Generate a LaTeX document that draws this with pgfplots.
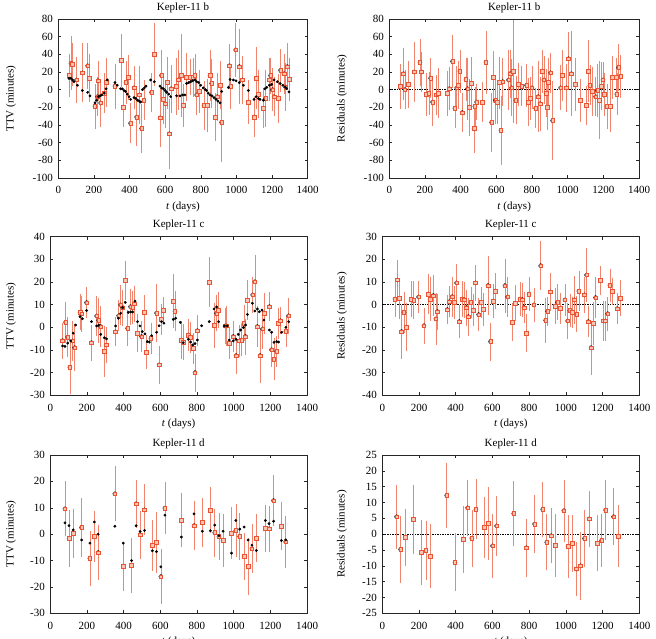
\documentclass[border=0pt]{standalone}
\usepackage{pgfplots}
\pgfplotsset{compat=1.18}
\usepackage{pgfplotstable}
\usepackage{fontspec}
\setmainfont{Liberation Serif}

\definecolor{errc}{RGB}{240,132,108}
\definecolor{markc}{RGB}{232,84,52}
\definecolor{markfill}{RGB}{250,196,178}

% ---------- Kepler-11 b ----------
\pgfplotstableread{
t v e
62 16 22
71 30 28
80 29 22
103 11 24
135 19 31
165 27 24
174 13 25
206 -19 23
221 -8 20
225 10 20
238 -15 25
258 -4 20
271 8 25
318 4 23
352 33 28
365 -20 20
380 8 22
393 14 23
406 -38 20
425 2 22
440 -31 30
455 -6 30
468 -44 25
481 -12 20
524 -3 20
539 40 33
571 -32 31
580 16 27
590 -11 25
600 -16 25
612 8 27
623 -50 37
633 1 25
664 4 30
674 11 32
692 16 45
702 -18 22
720 14 25
739 14 18
758 14 20
767 16 22
777 -6 20
792 -2 22
818 -18 25
837 -18 28
852 16 27
861 7 25
880 -31 25
893 -8 25
908 5 25
917 -37 42
960 27 22
968 4 23
996 45 28
1016 26 40
1033 11 25
1067 -14 22
1099 -31 20
1110 13 33
1123 -5 25
1151 -21 20
1164 -10 30
1185 11 22
1192 16 18
1203 0 22
1211 -8 20
1235 -10 25
1248 22 22
1267 18 20
1276 3 25
1286 26 24
1297 12 22
}\bobs

\pgfplotstableread{
t v
60 12.7
71 12.7
80 11
88 9
107 5
135 -1
165 -3
178 -7
206 -15
215 -12
225 -8
234 -7
243 -6
258 -4
268 1
275 11
318 8
331 5
350 1
359 1
369 -1
378 -2
387 -5
397 -8
406 -11
425 -9
436 -10
445 -12
455 -13
462 -14
473 0
483 2
492 4
518 11
539 9
571 4
580 2
590 1
600 -1
608 -3
620 -5
631 -8
664 -7
683 -7
698 -6
711 -6
720 7
732 8
743 9
754 10
767 11
777 9
788 8
799 5
814 2
825 0
833 -1
842 -4
852 -6
863 -7
874 -9
885 -11
896 -13
908 -15
917 -2
955 2.5
964 11.5
983 11
998 10
1016 8
1039 5
1067 -1
1099 -11
1110 -8
1123 -10
1132 -11
1151 -12
1160 1
1170 2.5
1185 5
1198 6
1211 11
1230 9
1245 7
1260 5
1273 3
1282 1.3
1295 -2.5
}\bmod

\pgfplotstableread{
t v e
63 4 23
80 18 27
88 0 20
107 6 24
139 20 32
172 31 24
181 20 20
209 -5 22
222 -4 22
232 13 20
243 -14 25
265 -6 20
275 -4 26
325 -4 23
336 1 22
355 32 28
368 -21 20
378 2 22
387 5 25
396 21 22
409 -26 20
430 12 22
439 1 33
449 -20 30
460 7 28
475 -44 25
480 -19 20
490 -14 18
523 -14 20
542 31 33
574 -37 31
583 14 27
596 -12 25
606 -14 22
617 8 27
626 -46 37
636 9 25
669 11 32
677 18 25
686 2 30
695 21 56
710 -12 25
723 6 22
742 4 20
770 5 22
779 -14 25
789 -10 22
800 2 22
821 -21 20
836 -8 38
845 -16 28
858 21 22
867 11 25
879 -4 25
886 -20 23
893 8 25
905 19 20
916 -35 42
961 2 23
970 16 26
994 2 25
1005 35 28
1021 18 46
1044 6 28
1072 -12 22
1106 -18 20
1116 21 33
1125 5 20
1138 -2 25
1157 -8 20
1168 -1 28
1179 -12 42
1187 4 25
1198 11 18
1206 -5 22
1221 -19 23
1240 -19 27
1251 14 22
1273 14 20
1276 -5 21
1286 25 24
1297 15 22
}\bres

% ---------- Kepler-11 c ----------
\pgfplotstableread{
t v e
67 -5.9 7
84 2.2 8
95 -4.3 8
107 -17.6 11
122 -6 8
133 -9 9.5
162 6.6 7
171 6 7
198 10.9 6
225 -6.8 7
253 5 8
264 3.1 9
275 0.3 8
295 -10.7 10.5
304 -7.8 7
356 -2 5.5
373 5.1 6
384 9.9 8
395 8.7 7
409 20.7 7.5
422 -0.4 7
438 9.1 7
449 8.8 6.5
458 10.4 7
476 -2.6 7.5
498 -4.1 6
513 6.5 7
525 -11 6.5
549 -4.9 6
580 6.3 12
593 -16.6 7.5
607 3.5 6
616 7.6 5
671 11.5 11
680 7.1 8
713 -5.6 7.5
725 -6.6 7
753 -3.4 6
765 -4.4 6
780 -9.3 6
789 -20 7.5
802 -1.5 6
867 19.9 10
895 1 9
907 6.2 7
916 7.6 7
953 0.6 7
962 0.6 8
975 -7 6
998 -4.1 6
1013 -12.5 7
1031 -6 6
1044 -5.6 6
1056 1.8 7
1065 -4.1 7
1075 12 8
1104 14.3 7
1116 20.1 11
1129 0.3 8
1144 -12.5 11
1158 -0.7 8
1167 6.2 8
1195 9.1 5.5
1207 -9.9 6.5
1220 -14 8.5
1235 -10.6 6
1245 1.8 6
1256 2.9 5
1285 -1.8 6
1300 5.1 7
}\cobs

\pgfplotstableread{
t v
67 -8.2
80 -8.4
95 -7
111 -6
125 -2.6
138 1
162 4.7
175 3.8
198 7.4
225 2.5
253 0.6
264 1
275 -3.1
295 -4.6
307 -5.1
356 0.6
371 4
384 6.2
395 8.7
409 11
425 6.6
438 6.8
449 6.8
462 11.6
476 2.5
489 0.6
502 -1.9
516 -2.9
529 -6.3
540 -6.5
553 -3.7
580 -2.2
593 0.7
607 2.5
620 1.8
671 3.5
684 4
709 2.2
725 -6.8
753 -5.3
765 -6.5
776 -7.8
789 -7.2
802 -5.6
825 0.7
867 2.5
893 8.1
907 9
918 2.5
949 0.6
965 0.6
976 -5.6
998 -6
1013 -5.3
1025 -3.1
1038 -1.2
1053 -0.1
1065 1
1075 5.7
1102 10.6
1116 7.2
1129 8.1
1140 6.9
1155 7.6
1165 3.2
1195 -1.2
1207 -2.2
1220 -6.6
1235 -6.3
1245 -6.5
1262 -2.2
1285 0
1300 2.5
}\cmod

\pgfplotstableread{
t v e
69 2.5 7
82 10.9 8
93 2.8 8
105 -11.9 11
118 -3.5 8
131 -9.9 9.5
158 2.4 7
171 1.9 7.5
198 3.4 6
227 -9.3 7
251 4.7 8
260 2.5 9
278 4 8
292 -6.3 10.5
301 -3.1 7
354 -2.2 5.5
365 1.3 6
381 3.5 8
392 1 6.5
405 9.6 7.5
419 -7.5 6.5
436 2.5 7
447 2.2 7
459 -1.3 7
468 -5.3 7.5
483 1 6
496 -2.4 6
508 9.6 7
525 -4.4 6.5
538 1 6
550 -2.1 6.5
576 8.4 12
590 -16.3 7.5
605 1.6 6.5
616 6 7
668 8.4 11
683 3.4 8
708 -7.8 7.5
723 0.7 7
750 2.5 6.5
763 2.2 6.5
772 -1.3 6
786 -12.6 7.5
799 4.7 6.5
826 -0.1 6.5
863 17.2 10
890 -6.9 9
901 -2.9 5.5
915 5.6 7.5
941 -0.6 7
955 1 7
968 -1.6 6
995 2.1 6
1010 -7.2 7
1022 -2.6 6.5
1035 -3.5 6
1046 2.1 9.5
1059 -4.3 7
1071 6 8
1101 4.3 7
1113 13.1 11
1122 -7.5 6
1137 -19 11
1150 -8.2 8.5
1162 3.1 8
1189 10.7 5.5
1204 -7.2 8
1215 -7.2 8
1228 -4 6.5
1240 8.5 6.5
1253 5.9 5
1280 -1.8 6
1295 2.9 7
}\cres

% ---------- Kepler-11 d ----------
\pgfplotstableread{
t v e
80 9.6 9.6
102 -1.6 10
125 0.4 8.5
171 2.5 10.3
216 -9.2 9.6
240 -0.9 8.8
261 -7 9.5
352 15.3 9.7
398 -12.3 8.5
443 -11.9 9.8
468 11.5 8.2
490 -0.3 8.3
514 9.2 8.9
557 -4.3 9
579 -3.2 10.8
603 -16.1 9.5
625 9.9 9
715 5.3 9.5
784 3.2 8.4
829 4.4 8.6
873 9 7.9
897 0.6 8.3
920 -0.9 8
942 -2.4 9.3
988 0.3 9.1
1012 1.4 9.3
1033 -0.9 8.2
1057 -8.5 8
1079 -12.3 10
1100 -5.6 8.5
1124 -1.5 8.2
1173 2.2 8.2
1193 2 7.8
1218 12.7 8.8
1260 3 8.3
1284 -2.9 9.1
}\dobs

\pgfplotstableread{
t v
80 4.3
102 3.2
125 1.6
171 -2.2
216 -3.4
240 4.6
261 0
352 3
398 -3.4
443 -10
468 3.2
490 1
514 1.4
557 -6.3
579 -6.6
603 -12.4
625 7.2
715 -1.1
784 7.7
829 1.1
873 1.3
897 3.4
920 -0.6
942 1.1
988 -7.2
1012 5.2
1033 1.9
1057 2.7
1079 -2.2
1100 -4.2
1124 -6.2
1173 5.2
1193 4
1218 4.9
1260 -2.4
1284 -2.2
}\dmod

\pgfplotstableread{
t v e
78 5.5 9.5
100 -4.8 9.9
124 -1 8.3
169 4.7 10.2
214 -5.7 9.6
238 -5.1 8.7
260 -7 9.5
351 12.2 9.7
396 -8.9 8.5
441 -1.7 9.8
465 8.3 8.2
488 -1.3 8.3
510 7.8 8.8
556 2.1 9
579 3.4 10.8
601 -3.7 9.4
623 2.6 8.9
716 6.5 9.5
785 -4.3 8.5
830 3.2 8.6
874 7.8 7.9
896 -2.6 8.2
920 -0.5 8
942 -3.6 9.2
989 7.4 9.1
1012 -3.9 9.2
1035 -2.9 8.3
1057 -11 8
1080 -10 10
1102 -1.4 8.4
1126 4.8 8.2
1171 -2.9 8.2
1195 -2 7.7
1217 7.6 8.9
1260 5.5 8.3
1284 -0.6 9
}\dres

\pgfplotsset{
  every axis title shift=0pt,
  kpanel/.style={
    scale only axis,
    xmin=0, xmax=1400, xtick={0,200,...,1400},
    tick align=inside, major tick length=3pt,
    axis line style={line width=0.5pt, black!85},
    every tick/.style={black!85, line width=0.5pt},
    tick label style={font=\fontsize{11}{13}\selectfont},
    label style={font=\fontsize{11}{13}\selectfont},
    /pgf/number format/assume math mode=true,
    /pgf/number format/1000 sep={},
    xticklabel style={yshift=-5pt},
    yticklabel style={xshift=-2pt},
    title style={font=\fontsize{11}{13}\selectfont,
      at={(axis description cs:0.5,1.072)}, anchor=center, yshift=0pt},
    xlabel={\textit{t} (days)},
    xlabel style={at={(axis description cs:0.5,-0.182)}, anchor=center},
    clip=false,
  },
  % error bars alone, no data marks
  obserr/.style={
    draw=none, mark=none, only marks, forget plot,
    error bars/.cd, y dir=both, y explicit,
    error bar style={draw=errc, line width=0.65pt, solid},
    error mark options={draw=errc, mark size=2.1pt, line width=0.65pt},
  },
  % open squares on top of the bars
  obsmark/.style={
    only marks, mark=square*, mark size=1.8pt,
    mark options={draw=markc, fill=markfill, line width=0.6pt},
  },
  model/.style={
    only marks, mark=*, mark size=1.2pt, black,
  },
  zeroline/.style={
    black, line width=0.5pt, dash pattern=on 1.5pt off 1pt,
  },
}

\begin{document}
\begin{tikzpicture}
\path[use as bounding box] (0,0) rectangle (656pt,639pt);

% Kepler-11 b, TTV
\begin{axis}[kpanel, at={(58.3pt,461pt)}, anchor=south west,
  width=249.4pt, height=159pt,
  ymin=-100, ymax=80, ytick={-100,-80,...,80},
  title={Kepler-11 b}, ylabel={TTV (minutes)},
  ylabel style={at={(axis description cs:-0.19,0.5)}, anchor=center}]
  \addplot[obserr] table[x=t, y=v, y error=e] {\bobs};
  \addplot[obsmark] table[x=t, y=v] {\bobs};
  \addplot[model] table[x=t, y=v] {\bmod};
\end{axis}

% Kepler-11 b, residuals
\begin{axis}[kpanel, at={(389.3pt,461pt)}, anchor=south west,
  width=249.7pt, height=159pt,
  ymin=-100, ymax=80, ytick={-100,-80,...,80},
  title={Kepler-11 b}, ylabel={Residuals (minutes)},
  ylabel style={at={(axis description cs:-0.19,0.5)}, anchor=center}]
  \addplot[zeroline] coordinates {(0,0) (1400,0)};
  \addplot[obserr] table[x=t, y=v, y error=e] {\bres};
  \addplot[obsmark] table[x=t, y=v] {\bres};
\end{axis}

% Kepler-11 c, TTV
\begin{axis}[kpanel, at={(50.3pt,243.7pt)}, anchor=south west,
  width=256.7pt, height=158.6pt,
  ymin=-30, ymax=40, ytick={-30,-20,...,40},
  title={Kepler-11 c}, ylabel={TTV (minutes)},
  ylabel style={at={(axis description cs:-0.153,0.5)}, anchor=center}]
  \addplot[obserr] table[x=t, y=v, y error=e] {\cobs};
  \addplot[obsmark] table[x=t, y=v] {\cobs};
  \addplot[model] table[x=t, y=v] {\cmod};
\end{axis}

% Kepler-11 c, residuals
\begin{axis}[kpanel, at={(382.3pt,243.7pt)}, anchor=south west,
  width=257pt, height=158.6pt,
  ymin=-40, ymax=30, ytick={-40,-30,...,30},
  title={Kepler-11 c}, ylabel={Residuals (minutes)},
  ylabel style={at={(axis description cs:-0.157,0.5)}, anchor=center}]
  \addplot[zeroline] coordinates {(0,0) (1400,0)};
  \addplot[obserr] table[x=t, y=v, y error=e] {\cres};
  \addplot[obsmark] table[x=t, y=v] {\cres};
\end{axis}

% Kepler-11 d, TTV
\begin{axis}[kpanel, at={(50.3pt,25.7pt)}, anchor=south west,
  width=256.7pt, height=158.3pt,
  ymin=-30, ymax=30, ytick={-30,-20,...,30},
  title={Kepler-11 d}, ylabel={TTV (minutes)},
  ylabel style={at={(axis description cs:-0.153,0.5)}, anchor=center}]
  \addplot[obserr] table[x=t, y=v, y error=e] {\dobs};
  \addplot[obsmark] table[x=t, y=v] {\dobs};
  \addplot[model] table[x=t, y=v] {\dmod};
\end{axis}

% Kepler-11 d, residuals
\begin{axis}[kpanel, at={(382.3pt,25.7pt)}, anchor=south west,
  width=257pt, height=158.3pt,
  ymin=-25, ymax=25, ytick={-25,-20,...,25},
  title={Kepler-11 d}, ylabel={Residuals (minutes)},
  ylabel style={at={(axis description cs:-0.157,0.5)}, anchor=center}]
  \addplot[zeroline] coordinates {(0,0) (1400,0)};
  \addplot[obserr] table[x=t, y=v, y error=e] {\dres};
  \addplot[obsmark] table[x=t, y=v] {\dres};
\end{axis}
\end{tikzpicture}
\end{document}
